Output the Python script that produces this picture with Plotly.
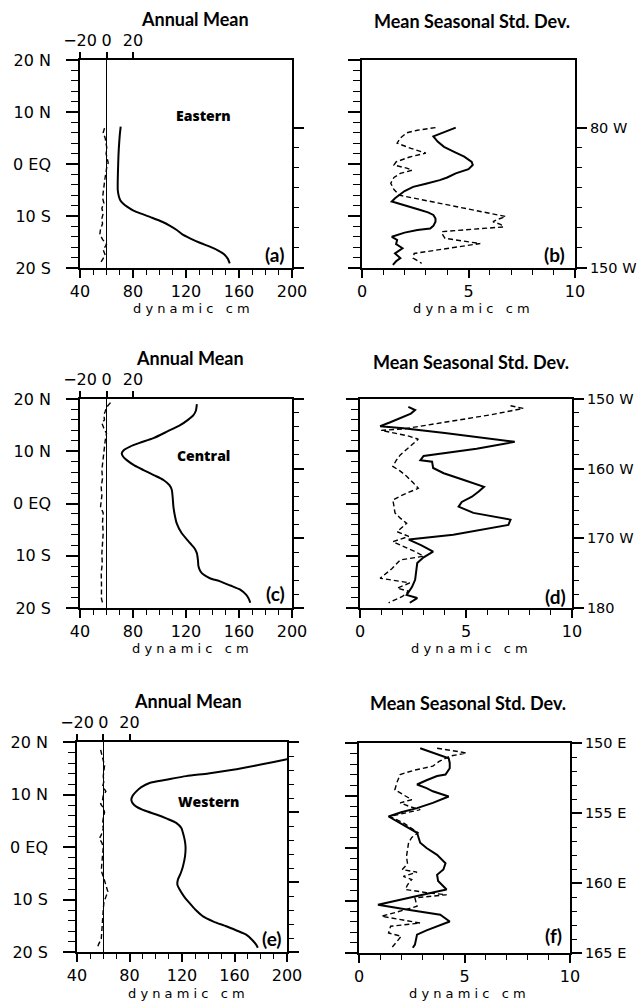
import plotly.graph_objects as go

W, H = 638, 1001

# ---------------- data ----------------
# (a) Eastern section: annual mean (dynamic cm) and difference curve
east_mean_lat = [7.2, 5.5, 3.0, 1.4, -1.0, -3.0, -5.0, -6.2, -7.0, -7.6, -8.2, -8.9, -9.5, -10.3,
                 -11.1, -11.9, -12.7, -13.5, -14.3, -15.1, -15.9, -16.6, -17.3, -18.2, -19.1]
east_mean_val = [70.7, 70.0, 69.3, 69.0, 68.7, 68.5, 68.5, 69.3, 70.5, 72.5, 75.5, 80.0, 85.5, 94.0,
                 102.0, 108.0, 113.0, 117.0, 123.0, 130.0, 138.0, 144.0, 148.5, 151.5, 153.0]
east_diff_lat = [6.9, 6.0, 5.0, 4.0, 3.0, 2.0, 1.0, 0.2, -0.5, -1.5, -2.5, -3.5, -4.5, -5.5,
                 -6.5, -7.5, -8.5, -9.5, -10.5, -11.5, -12.5, -13.5, -14.5, -15.5, -16.5,
                 -17.5, -18.5, -19.2]
east_diff_val = [-1.5, -2.5, -1.0, -0.5, 0.3, -0.3, 0.5, 1.3, 0.3, -0.5, -1.0, -1.5, -2.0, -2.5,
                 -3.0, -2.0, -3.5, -2.5, -3.5, -3.0, -4.5, -5.0, -3.0, 0.0, -2.5,
                 -1.0, -3.5, -5.0]

# (b) Eastern section: mean seasonal std. dev.
east_sd_solid_lat = [7.0, 6.2, 5.3, 4.3, 3.3, 2.3, 1.4, 0.4, -0.2, -1.0, -1.8, -2.6, -3.1, -3.8,
                     -4.4, -5.2, -5.9, -6.6, -7.2, -7.6, -8.2, -8.8, -9.3, -9.8, -10.5, -11.1,
                     -11.9, -12.4, -12.7, -13.2, -14.0, -14.6, -15.4, -16.2, -17.2, -18.1,
                     -18.7, -19.4]
east_sd_solid_val = [4.4, 3.9, 3.35, 3.55, 3.85, 4.35, 4.8, 5.15, 5.2, 5.0, 4.4, 4.0, 3.65, 3.0,
                     2.4, 2.0, 1.75, 1.55, 1.4, 1.7, 2.2, 2.7, 3.1, 3.35, 3.45, 3.45,
                     3.35, 3.2, 2.6, 2.0, 1.4, 1.65, 1.6, 1.9, 1.55, 1.8,
                     1.6, 1.45]
east_sd_dash_lat = [7.0, 6.5, 6.0, 5.0, 4.0, 3.0, 2.1, 1.3, 0.4, -0.2, -0.8, -1.2, -1.8, -2.6,
                    -3.7, -4.9, -6.0, -10.1, -10.6, -11.1, -11.6, -12.1, -13.0, -13.7, -14.3,
                    -15.3, -17.2, -18.1, -19.1]
east_sd_dash_val = [3.45, 2.6, 2.1, 1.8, 1.65, 2.3, 3.0, 2.2, 1.6, 1.5, 2.1, 2.35, 1.8, 1.5,
                    1.35, 1.5, 1.75, 6.75, 6.4, 6.15, 6.5, 6.65, 3.75, 3.8, 3.9,
                    5.55, 2.45, 2.4, 2.8]

# (c) Central section: annual mean and difference curve
cent_mean_lat = [19.0, 17.8, 16.9, 16.0, 15.0, 13.8, 12.5, 11.6, 10.9, 10.2, 9.6, 9.0, 8.3, 7.3,
                 6.4, 5.4, 4.5, 3.5, 2.6, 1.0, -0.6, -2.2, -3.8, -5.7, -7.6, -8.6, -9.5,
                 -10.8, -12.0, -13.0, -13.6, -14.3, -14.9, -15.7, -16.5, -17.5, -18.3, -19.0]
cent_mean_val = [128.2, 127.5, 125.6, 121.5, 115.6, 106.0, 95.4, 85.0, 77.8, 73.0, 71.5, 72.5,
                 75.3, 81.0, 87.9, 96.0, 103.0, 107.5, 109.3, 110.0, 110.5, 111.5, 113.0,
                 116.8, 123.1, 126.5, 128.2, 129.0, 129.4, 131.0, 133.2, 138.0, 145.8,
                 153.5, 160.9, 165.5, 167.5, 168.5]
cent_diff_lat = [19.3, 18.4, 17.6, 16.9, 16.0, 15.4, 14.4, 13.4, 12.0, 10.8, 9.6, 8.0, 6.4, 4.8,
                 3.2, 1.5, 0.4, -0.6, -1.8, -3.5, -5.7, -7.5, -9.5, -11.5, -13.3, -15.2,
                 -17.1, -18.2, -19.0]
cent_diff_val = [3.0, 0.0, -1.0, -2.0, -1.5, -3.5, -2.0, 0.0, -1.0, -1.5, -2.0, -2.5, -3.5, -3.0,
                 -4.0, -3.5, -3.8, -4.5, -2.5, -3.0, -2.5, -3.0, -3.5, -3.2, -4.0, -3.8,
                 -3.5, -3.8, -3.0]

# (d) Central section: mean seasonal std. dev.
cent_sd_solid_lat = [18.5, 17.9, 17.2, 16.3, 15.5, 14.8, 14.4, 13.5, 12.6, 11.8, 10.5, 9.1, 8.3,
                     8.0, 6.8, 5.8, 4.5, 3.2, 2.3, 1.3, 0.3, -0.6, -1.8, -3.1, -4.1, -5.0, -6.0,
                     -6.9, -8.0, -9.2, -10.3, -11.4, -13.0, -14.6, -16.0, -17.5, -18.1, -18.6,
                     -19.0]
cent_sd_solid_val = [2.28, 2.6, 2.4, 1.9, 1.4, 0.95, 2.05, 4.0, 5.8, 7.3, 5.5, 3.0, 2.85,
                     3.4, 3.45, 3.95, 4.9, 5.85, 5.6, 5.28, 4.8, 4.65, 5.35, 7.1, 7.0, 5.8, 4.4,
                     2.3, 2.9, 3.45, 3.0, 2.7, 2.65, 2.6, 2.45, 2.2, 2.7, 2.5,
                     2.35]
cent_sd_dash_lat = [18.7, 18.2, 17.0, 16.0, 15.0, 14.3, 14.0, 13.5, 12.9, 12.3, 11.0, 9.3, 8.2,
                    7.1, 6.2, 5.2, 4.0, 2.9, 1.8, 0.7, -0.5, -1.8, -2.8, -3.8, -5.4, -6.3, -7.3,
                    -8.3, -9.2, -10.1, -10.8, -12.5, -14.3, -15.2, -16.2, -16.8, -17.8, -19.0]
cent_sd_dash_val = [7.1, 7.7, 6.2, 4.6, 3.0, 2.1, 1.0, 1.6, 2.3, 2.75, 2.4, 1.9, 1.7,
                    1.55, 1.9, 2.2, 2.5, 2.75, 2.1, 1.55, 1.6, 1.65, 1.9, 2.2, 1.75, 2.3, 1.55,
                    2.1, 2.6, 3.0, 1.9, 1.5, 0.95, 2.35, 1.75, 2.3, 2.0, 1.35]

# (e) Western section: annual mean and difference curve
west_mean_lat = [17.5, 16.7, 15.7, 14.7, 14.0, 13.5, 12.8, 12.2, 11.4, 10.6, 9.8, 9.0, 8.3, 7.7,
                 6.9, 6.2, 5.4, 4.6, 3.6, 2.7, 1.4, 0.1, -1.8, -3.7, -5.0, -6.2, -7.2, -8.1,
                 -9.4, -10.7, -12.0, -13.2, -14.2, -15.1, -15.9, -16.7, -17.7, -18.6, -19.2]
west_mean_val = [216.0, 200.0, 180.0, 158.8, 140.0, 123.2, 108.0, 95.3, 89.0, 85.2, 82.5, 81.4,
                 82.5, 85.2, 92.0, 100.4, 108.5, 115.6, 119.5, 120.7, 122.0, 122.7, 122.3,
                 120.7, 119.0, 116.9, 116.5, 118.2, 121.5, 125.8, 130.5, 136.0, 144.0,
                 153.7, 161.5, 168.9, 173.5, 176.5, 177.8]
west_diff_lat = [18.5, 17.5, 16.5, 15.5, 14.5, 13.5, 12.5, 11.5, 10.6, 9.8, 9.0, 8.2, 7.5, 6.6,
                 5.5, 4.5, 3.5, 2.3, 1.6, 0.8, 0.0, -1.5, -3.0, -4.5, -6.0, -7.5, -8.5, -9.5,
                 -10.5, -12.0, -13.5, -15.0, -16.5, -17.5, -18.5, -19.2]
west_diff_val = [-2.0, -1.0, 0.0, 1.0, 0.5, 0.0, 0.5, -0.5, 2.0, 0.0, -0.5, -2.0, 0.0, 1.0,
                 0.0, -0.5, 0.0, -1.5, -3.0, -1.0, 0.0, -0.5, -1.0, -1.5, 0.5, 2.5, 3.5, 2.0,
                 0.5, 0.0, -0.5, -1.0, -1.0, -1.5, -3.5, -4.5]

# (f) Western section: mean seasonal std. dev.
west_sd_solid_lat = [19.0, 18.0, 17.1, 16.2, 15.2, 14.0, 13.7, 12.9, 12.1, 11.4, 10.8, 9.8, 9.2,
                     8.6, 7.6, 6.8, 6.0, 4.8, 3.8, 2.9, 1.0, 0.0, -1.3, -2.9, -4.1, -5.1, -6.3,
                     -7.9, -8.4, -9.2, -10.0, -10.8, -11.8, -12.7, -14.0, -14.9, -15.7, -16.5,
                     -17.5, -18.4, -19.0]
west_sd_solid_val = [2.9, 3.6, 4.25, 4.3, 4.3, 4.1, 3.7, 3.2, 2.75, 3.2, 3.5, 4.25, 3.9,
                     3.5, 2.75, 2.0, 1.4, 1.95, 2.4, 2.75, 2.9, 3.2, 3.7, 4.1, 4.0, 3.7, 3.75,
                     4.15, 3.6, 2.75, 1.8, 0.9, 2.4, 3.85, 4.3, 3.7, 3.2, 2.75,
                     2.7, 2.65, 2.55]
west_sd_dash_lat = [19.0, 18.5, 18.1, 17.5, 16.5, 15.6, 14.8, 14.0, 12.5, 11.1, 10.2, 9.2, 8.6,
                    7.9, 7.3, 6.6, 6.0, 4.8, 2.9, 2.0, 1.0, -1.6, -3.0, -4.1, -4.6, -5.4, -6.0,
                    -7.0, -7.9, -8.5, -8.9, -9.5, -11.1, -12.2, -13.0, -14.3, -14.9, -16.2,
                    -16.8, -17.8, -19.0]
west_sd_dash_val = [3.7, 4.4, 5.1, 4.3, 3.8, 3.5, 2.6, 1.95, 1.8, 1.7, 2.1, 2.5, 1.95,
                    2.4, 2.9, 2.1, 1.45, 2.1, 2.8, 2.5, 2.35, 2.25, 2.3, 2.05, 2.75, 2.1, 2.5,
                    2.3, 2.2, 3.2, 4.15, 2.65, 2.75, 1.8, 1.07, 2.9, 1.5, 1.4,
                    2.0, 1.8, 1.55]

# axis tick labels
lat_ticks = [-20, -10, 0, 10, 20]
lat_labels = ["20 S", "10 S", "0 EQ", "10 N", "20 N"]
mean_ticks = [40, 80, 120, 160, 200]
sd_ticks = [0, 5, 10]
diff_ticks = [-20, 0, 20]
diff_labels = ["\u221220", "0", "20"]
lon_east_ticks, lon_east_labels = [80, 150], ["80 W", "150 W"]
lon_cent_ticks, lon_cent_labels = [150, 160, 170, 180], ["150 W", "160 W", "170 W", "180"]
lon_west_ticks, lon_west_labels = [150, 155, 160, 165], ["150 E", "155 E", "160 E", "165 E"]

# ---------------- layout helpers ----------------
def fx(x):
    return x / W


def fy(y):
    return 1 - y / H


TICKFONT = dict(family="DejaVu Sans", size=16, color="black")
LONFONT = dict(family="DejaVu Sans", size=14.5, color="black")
LABELFONT = dict(family="DejaVu Sans", size=13, color="black")
TITLEFONT = dict(family="Lato", size=18, color="black", weight="bold")
BOLDFONT = dict(family="Open Sans", size=14, color="black", weight=800)
PANELFONT = dict(family="Lato", size=19, color="black", weight="bold")

# pixel boxes (left, top, right, bottom) of the six panels
boxes = [
    (80, 60, 292, 268), (362, 60, 575, 268),
    (80, 399, 292, 608), (360, 399, 572, 608),
    (77, 742, 287, 952), (359, 743, 570, 953),
]

# right-hand longitude axes: range (bottom, top), major ticks, labels, minor ticks
lon_axes = [
    ([150, 46.3], lon_east_ticks, lon_east_labels, [90, 100, 110, 120, 130, 140]),
    ([180, 150], lon_cent_ticks, lon_cent_labels, [152, 154, 156, 158, 162, 164, 166, 168, 172, 174, 176, 178]),
    ([165, 150], lon_west_ticks, lon_west_labels, [151, 152, 153, 154, 156, 157, 158, 159, 161, 162, 163, 164]),
]

mean_series = [
    (east_mean_lat, east_mean_val, east_diff_lat, east_diff_val),
    (cent_mean_lat, cent_mean_val, cent_diff_lat, cent_diff_val),
    (west_mean_lat, west_mean_val, west_diff_lat, west_diff_val),
]
sd_series = [
    (east_sd_solid_lat, east_sd_solid_val, east_sd_dash_lat, east_sd_dash_val),
    (cent_sd_solid_lat, cent_sd_solid_val, cent_sd_dash_lat, cent_sd_dash_val),
    (west_sd_solid_lat, west_sd_solid_val, west_sd_dash_lat, west_sd_dash_val),
]


def ax_key(kind, n):
    return kind + ("" if n == 1 else str(n))


def ax_ref(kind, n):
    return kind[0] + ("" if n == 1 else str(n))


fig = go.Figure()
layout = {}

SOLID = dict(color="black", width=2)
DASH = dict(color="black", width=1.4, dash="5px,3px")

for i, (l, t, r, b) in enumerate(boxes):
    n = i + 1
    row, col = divmod(i, 2)
    xr, yr = ax_ref("x", n), ax_ref("y", n)
    is_mean = col == 0

    layout[ax_key("xaxis", n)] = dict(
        domain=[fx(l), fx(r)], anchor=yr, automargin=False,
        range=[40, 200] if is_mean else [0, 10],
        tickvals=mean_ticks if is_mean else sd_ticks,
        ticks="outside", ticklen=8, tickwidth=1.5, tickcolor="black",
        minor=dict(ticks="outside", dtick=10 if is_mean else 1, tick0=0,
                   ticklen=5, tickwidth=1.2, tickcolor="black"),
        showline=True, linecolor="black", linewidth=1.6, mirror=True,
        showgrid=False, zeroline=False, tickfont=TICKFONT, fixedrange=True,
    )
    layout[ax_key("yaxis", n)] = dict(
        domain=[fy(b), fy(t)], anchor=xr, range=[-20, 20], automargin=False,
        tickvals=lat_ticks, ticktext=lat_labels, showticklabels=is_mean,
        ticks="outside", ticklen=12, tickwidth=1.5, tickcolor="black",
        minor=dict(ticks="outside", dtick=2, tick0=0, ticklen=7, tickwidth=1.2, tickcolor="black"),
        showline=True, linecolor="black", linewidth=1.6, mirror=True,
        showgrid=False, zeroline=False, tickfont=TICKFONT, ticklabelstandoff=12,
        fixedrange=True,
    )

    # longitude axis on the right
    lon_range, lon_vals, lon_text, lon_minor = lon_axes[row]
    yn = 6 + n
    layout[ax_key("yaxis", yn)] = dict(
        overlaying=yr, side="right", anchor=xr, range=lon_range, automargin=False,
        tickvals=lon_vals, ticktext=lon_text, showticklabels=not is_mean,
        ticks="outside", ticklen=11, tickwidth=1.5, tickcolor="black",
        minor=dict(ticks="outside", tickmode="array", tickvals=lon_minor,
                   ticklen=6, tickwidth=1.2, tickcolor="black"),
        showline=False, showgrid=False, zeroline=False, tickfont=LONFONT,
        ticklabelstandoff=0, fixedrange=True,
    )
    fig.add_trace(go.Scatter(x=[], y=[], xaxis=xr, yaxis=ax_ref("y", yn),
                             showlegend=False, hoverinfo="skip"))

    if is_mean:
        mlat, mval, dlat, dval = mean_series[row]
        xn = 7 + row
        layout[ax_key("xaxis", xn)] = dict(
            overlaying=xr, side="top", anchor=yr, range=[-20, 140], automargin=False,
            tickvals=diff_ticks, ticktext=diff_labels,
            ticks="outside", ticklen=7, tickwidth=1.5, tickcolor="black",
            showline=False, showgrid=False,
            zeroline=True, zerolinecolor="black", zerolinewidth=1.2,
            tickfont=TICKFONT, fixedrange=True,
        )
        fig.add_trace(go.Scatter(x=mval, y=mlat, xaxis=xr, yaxis=yr, mode="lines",
                                 line=dict(SOLID, shape="spline", smoothing=0.6),
                                 showlegend=False, hoverinfo="skip"))
        fig.add_trace(go.Scatter(x=dval, y=dlat, xaxis=ax_ref("x", xn), yaxis=yr,
                                 mode="lines", line=DASH, showlegend=False, hoverinfo="skip"))
    else:
        slat, sval, dlat, dval = sd_series[row]
        fig.add_trace(go.Scatter(x=sval, y=slat, xaxis=xr, yaxis=yr, mode="lines",
                                 line=SOLID, showlegend=False, hoverinfo="skip"))
        fig.add_trace(go.Scatter(x=dval, y=dlat, xaxis=xr, yaxis=yr, mode="lines",
                                 line=DASH, showlegend=False, hoverinfo="skip"))

# ---------------- text ----------------
annotations = []


def text_at(x, y, s, font):
    annotations.append(dict(x=fx(x), y=fy(y), xref="paper", yref="paper", text=s,
                            showarrow=False, font=font, xanchor="center", yanchor="middle"))


for (x, y) in [(195, 19), (190, 358), (188, 701)]:
    text_at(x, y, "Annual Mean", TITLEFONT)
for (x, y) in [(472, 21), (471, 362), (468, 703)]:
    text_at(x, y, "Mean Seasonal Std. Dev.", TITLEFONT)
for (x, y) in [(191, 308), (471, 308), (190, 648), (469, 648), (186, 993), (467, 993)]:
    text_at(x, y, "d y n a m i c   c m", LABELFONT)
for (x, y, s) in [(203, 116, "Eastern"), (203, 455, "Central"), (208, 801, "Western")]:
    text_at(x, y, s, BOLDFONT)
for (x, y, s) in [(274, 255, "(a)"), (554, 255, "(b)"), (275, 593, "(c)"),
                  (555, 596, "(d)"), (272, 938, "(e)"), (553, 935, "(f)")]:
    text_at(x, y, s, PANELFONT)

fig.update_layout(
    width=W, height=H, margin=dict(l=0, r=0, t=0, b=0),
    paper_bgcolor="white", plot_bgcolor="white",
    showlegend=False, annotations=annotations, **layout,
)

fig.write_html("out.html")
